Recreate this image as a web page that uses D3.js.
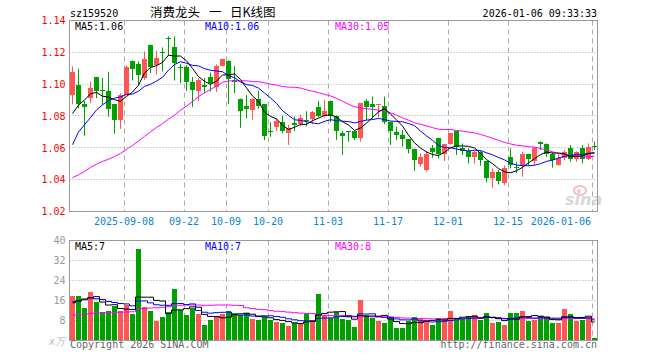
<!DOCTYPE html>
<html>
<head>
<meta charset="utf-8">
<script src="https://cdn.jsdelivr.net/npm/d3@7/dist/d3.min.js"></script>
<style>
    body { margin: 0; background: #fff; }
    svg text { font-family: "DejaVu Sans Mono", monospace; font-size: 10px; }
</style>
</head>
<body>
<div class="container"></div>
<script>
// trading days, 2025-08-26 .. 2026-01-06
const dates = [
    "08-26", "08-27", "08-28", "08-29", "09-01", "09-02", "09-03", "09-04", "09-05",
    "09-08", "09-09", "09-10", "09-11", "09-12", "09-15", "09-16", "09-17", "09-18", "09-19",
    "09-22", "09-23", "09-24", "09-25", "09-26", "09-29", "09-30",
    "10-09", "10-10", "10-13", "10-14", "10-15", "10-16", "10-17",
    "10-20", "10-21", "10-22", "10-23", "10-24", "10-27", "10-28", "10-29", "10-30", "10-31",
    "11-03", "11-04", "11-05", "11-06", "11-07", "11-10", "11-11", "11-12", "11-13", "11-14",
    "11-17", "11-18", "11-19", "11-20", "11-21", "11-24", "11-25", "11-26", "11-27", "11-28",
    "12-01", "12-02", "12-03", "12-04", "12-05", "12-08", "12-09", "12-10", "12-11", "12-12",
    "12-15", "12-16", "12-17", "12-18", "12-19", "12-22", "12-23", "12-24", "12-25", "12-26",
    "12-29", "12-30", "12-31", "01-05", "01-06"
]

const open = [
    1.0933, 1.0996, 1.0874, 1.0916, 1.1044, 1.0962, 1.0958, 1.0874, 1.0775, 1.0933,
    1.1147, 1.1126, 1.1038, 1.1248, 1.1118, 1.1201, 1.1290, 1.1233, 1.1107, 1.1105,
    1.1013, 1.0958, 1.0996, 1.1042, 1.0983, 1.1115, 1.1145, 1.1027, 1.0905, 1.0861,
    1.0840, 1.0905, 1.0874, 1.0704, 1.0731, 1.0761, 1.0696, 1.0754, 1.0750, 1.0775,
    1.0782, 1.0855, 1.0803, 1.0895, 1.0798, 1.0691, 1.0704, 1.0704, 1.0660, 1.0895,
    1.0874, 1.0872, 1.0860, 1.0761, 1.0702, 1.0681, 1.0654, 1.0593, 1.0496, 1.0460,
    1.0597, 1.0660, 1.0559, 1.0622, 1.0706, 1.0597, 1.0580, 1.0544, 1.0572, 1.0517,
    1.0412, 1.0446, 1.0376, 1.0544, 1.0480, 1.0492, 1.0559, 1.0517, 1.0639, 1.0622,
    1.0559, 1.0492, 1.0538, 1.0597, 1.0530, 1.0597, 1.0530, 1.0609
]
const high = [
    1.1111, 1.1097, 1.0895, 1.1017, 1.1046, 1.1038, 1.1078, 1.0876, 1.0943, 1.1118,
    1.1149, 1.1143, 1.1206, 1.1250, 1.1210, 1.1231, 1.1300, 1.1300, 1.1126, 1.1118,
    1.1044, 1.1038, 1.1038, 1.1073, 1.1124, 1.1160, 1.1150, 1.1113, 1.0910, 1.0931,
    1.0910, 1.0960, 1.0876, 1.0761, 1.0784, 1.0803, 1.0744, 1.0795, 1.0808, 1.0830,
    1.0832, 1.0895, 1.0900, 1.0897, 1.0803, 1.0706, 1.0706, 1.0706, 1.0882, 1.0908,
    1.0922, 1.0876, 1.0922, 1.0765, 1.0733, 1.0712, 1.0656, 1.0595, 1.0565, 1.0580,
    1.0618, 1.0662, 1.0625, 1.0693, 1.0708, 1.0628, 1.0597, 1.0580, 1.0580, 1.0519,
    1.0471, 1.0460, 1.0488, 1.0597, 1.0510, 1.0576, 1.0561, 1.0607, 1.0641, 1.0628,
    1.0572, 1.0559, 1.0586, 1.0618, 1.0578, 1.0618, 1.0628, 1.0639
]
const low = [
    1.0874, 1.0849, 1.0676, 1.0880, 1.0912, 1.0870, 1.0796, 1.0689, 1.0719, 1.0930,
    1.1023, 1.0996, 1.1027, 1.1069, 1.1059, 1.1080, 1.1180, 1.1023, 1.1006, 1.0958,
    1.0857, 1.0895, 1.0945, 1.0954, 1.0950, 1.1112, 1.0874, 1.0945, 1.0726, 1.0784,
    1.0776, 1.0846, 1.0649, 1.0670, 1.0706, 1.0691, 1.0618, 1.0706, 1.0736, 1.0735,
    1.0748, 1.0790, 1.0790, 1.0761, 1.0650, 1.0555, 1.0639, 1.0649, 1.0639, 1.0775,
    1.0782, 1.0790, 1.0748, 1.0618, 1.0649, 1.0607, 1.0565, 1.0454, 1.0481, 1.0450,
    1.0538, 1.0534, 1.0517, 1.0620, 1.0555, 1.0555, 1.0502, 1.0502, 1.0488, 1.0383,
    1.0349, 1.0370, 1.0366, 1.0471, 1.0440, 1.0418, 1.0492, 1.0492, 1.0586, 1.0544,
    1.0475, 1.0488, 1.0523, 1.0513, 1.0513, 1.0502, 1.0523, 1.0586
]
const close = [
    1.1076, 1.0874, 1.0857, 1.0975, 1.0958, 1.0958, 1.0845, 1.0775, 1.0929, 1.1107,
    1.1097, 1.1059, 1.1157, 1.1105, 1.1164, 1.1199, 1.1286, 1.1130, 1.1105, 1.1013,
    1.0962, 1.1027, 1.0985, 1.1006, 1.1113, 1.1157, 1.1031, 1.1015, 1.0832, 1.0847,
    1.0906, 1.0860, 1.0675, 1.0700, 1.0769, 1.0706, 1.0727, 1.0744, 1.0790, 1.0770,
    1.0824, 1.0803, 1.0832, 1.0803, 1.0706, 1.0677, 1.0700, 1.0660, 1.0880, 1.0859,
    1.0855, 1.0874, 1.0765, 1.0706, 1.0681, 1.0656, 1.0593, 1.0523, 1.0540, 1.0559,
    1.0576, 1.0559, 1.0622, 1.0691, 1.0607, 1.0582, 1.0544, 1.0572, 1.0523, 1.0412,
    1.0450, 1.0391, 1.0471, 1.0492, 1.0475, 1.0559, 1.0530, 1.0601, 1.0622, 1.0559,
    1.0523, 1.0534, 1.0576, 1.0530, 1.0576, 1.0530, 1.0607, 1.0607
]
// volume, in 10k
const volume = [
    17.8, 17.8, 13.0, 19.4, 15.4, 11.3, 11.8, 13.7, 11.8, 14.2,
    10.6, 36.6, 13.4, 11.8, 7.8, 9.4, 11.3, 20.6, 12.2, 10.2,
    13.0, 10.6, 6.2, 8.2, 9.8, 10.6, 11.8, 11.0, 10.2, 11.0,
    8.6, 8.2, 9.4, 8.2, 7.4, 7.0, 5.8, 7.0, 6.6, 10.6,
    8.2, 18.6, 10.2, 9.0, 11.4, 8.6, 8.2, 5.4, 16.2, 10.2,
    9.0, 7.8, 7.0, 9.0, 5.0, 5.0, 7.8, 9.4, 8.6, 8.2,
    6.2, 9.0, 9.0, 11.8, 8.2, 8.6, 9.8, 10.2, 8.2, 11.0,
    7.0, 7.4, 6.2, 11.0, 11.0, 11.8, 7.8, 8.2, 9.8, 9.4,
    7.0, 7.0, 12.6, 10.6, 7.8, 8.2, 9.4, 1.0
]

// moving average values before the window is full (they use earlier days)
const ma5Head = [1.0815, 1.0868, 1.0900, 1.0940]
const ma10Head = [1.0620, 1.0700, 1.0745, 1.0790, 1.0838, 1.0870, 1.0897, 1.0912, 1.0920]
const ma30Head = [
    1.0413, 1.0430, 1.0452, 1.0477, 1.0497, 1.0515, 1.0528, 1.0545, 1.0565, 1.0590,
    1.0615, 1.0643, 1.0672, 1.0700, 1.0728, 1.0752, 1.0780, 1.0805, 1.0836, 1.0862,
    1.0890, 1.0922, 1.0945, 1.0967, 1.0988, 1.1012, 1.1020, 1.1022, 1.1020
]
const vma5Head = [15.1, 15.8, 16.6, 17.1]
const vma10Head = [15.6, 15.9, 16.3, 17.0, 17.6, 16.4, 15.6, 15.2, 14.8]
const vma30Head = [
    10.2, 10.3, 10.5, 10.7, 10.9, 11.0, 11.1, 11.2, 11.3, 11.4,
    11.5, 12.6, 12.8, 13.0, 13.1, 13.3, 13.5, 14.0, 14.1, 14.2,
    14.2, 14.2, 14.1, 14.1, 14.2, 14.2, 14.2, 14.1, 14.0
]

const priceTicks = [1.14, 1.12, 1.10, 1.08, 1.06, 1.04, 1.02]
const volTicks = [40, 32, 24, 16, 8]
const tickDates = ["09-08", "09-22", "10-09", "10-20", "11-03", "11-17", "12-01", "12-15", "01-06"]
const tickLabels = ["2025-09-08", "09-22", "10-09", "10-20", "11-03", "11-17", "12-01", "12-15", "2026-01-06"]

const width = 660
const height = 360
const plot = { left: 69.5, right: 597.5 }
const main = { top: 20.5, bottom: 211.5 }
const vpan = { top: 240.5, bottom: 340.5 }
const up = "#ff5555", down = "#00a000"

let ma = (arr, n, head) => arr.map((v, i) => i < n - 1 ? head[i] : d3.mean(arr.slice(i - n + 1, i + 1)))

let svg = d3.select(".container")
    .append("svg")
    .attr("width", width)
    .attr("height", height)
    .attr("viewBox", [0, 0, width, height])

let x = d3.scaleBand()
    .domain(dates)
    .range([plot.left, plot.right])
    .paddingInner(1 / 6)
    .paddingOuter(1 / 12)

let yPrice = d3.scaleLinear().domain([1.02, 1.14]).range([main.bottom, main.top])
let yVol = d3.scaleLinear().domain([0, 40]).range([vpan.bottom, vpan.top])

let mid = d => x(d) + x.bandwidth() / 2
let crisp = v => Math.round(v - 0.5) + 0.5

// header
svg.append("text").attr("x", 70).attr("y", 16.5).text("sz159520")
svg.append("text")
    .attr("y", 16.5)
    .style("font-family", '"Noto Sans CJK SC", sans-serif')
    .style("font-size", "12.5px")
    .selectAll("tspan")
    .data([[150, "消费龙头"], [209, "一"], [230, "日K线图"]])
    .join("tspan")
    .attr("x", d => d[0])
    .text(d => d[1])
svg.append("text").attr("x", 597).attr("y", 16.5).attr("text-anchor", "end").text("2026-01-06 09:33:33")

// grids
let grid = svg.append("g").attr("stroke", "#aaa").attr("stroke-width", 1)
grid.selectAll("line.hp")
    .data(priceTicks.slice(1, -1))
    .join("line")
    .attr("x1", plot.left).attr("x2", plot.right)
    .attr("y1", d => crisp(yPrice(d))).attr("y2", d => crisp(yPrice(d)))
    .attr("stroke-dasharray", "1,2")
grid.selectAll("line.hv")
    .data(volTicks.slice(1))
    .join("line")
    .attr("x1", plot.left).attr("x2", plot.right)
    .attr("y1", d => crisp(yVol(d))).attr("y2", d => crisp(yVol(d)))
    .attr("stroke-dasharray", "1,2")
for (let [t, b] of [[main.top, main.bottom], [vpan.top, vpan.bottom]]) {
    grid.append("g")
        .selectAll("line")
        .data(tickDates)
        .join("line")
        .attr("x1", d => x(d) + 0.5).attr("x2", d => x(d) + 0.5)
        .attr("y1", t).attr("y2", b)
        .attr("stroke-dasharray", "5,4")
}

// sina watermark
let logo = svg.append("g").attr("opacity", 0.9)
logo.append("ellipse").attr("cx", 580).attr("cy", 190.5).attr("rx", 6).attr("ry", 4.5)
    .attr("fill", "none").attr("stroke", "#f6b8b8").attr("stroke-width", 2)
logo.append("circle").attr("cx", 579).attr("cy", 191).attr("r", 2).attr("fill", "#e8c8c8")
logo.append("text").attr("x", 565).attr("y", 205)
    .style("font-family", '"DejaVu Sans", sans-serif').style("font-size", "16px")
    .style("font-weight", "bold").style("font-style", "italic")
    .attr("fill", "#d4d4d4").text("sina")

// candles
let candles = svg.append("g")
    .selectAll("g")
    .data(dates.map((d, i) => ({ d, o: open[i], h: high[i], l: low[i], c: close[i] })))
    .join("g")
    .attr("fill", k => k.c >= k.o ? up : down)
    .attr("stroke", k => k.c >= k.o ? up : down)
candles.append("line")
    .attr("x1", k => mid(k.d)).attr("x2", k => mid(k.d))
    .attr("y1", k => yPrice(k.h)).attr("y2", k => yPrice(k.l))
candles.append("rect")
    .attr("stroke", "none")
    .attr("shape-rendering", "crispEdges")
    .attr("x", k => x(k.d))
    .attr("width", x.bandwidth())
    .attr("y", k => yPrice(Math.max(k.o, k.c)))
    .attr("height", k => Math.max(1, yPrice(Math.min(k.o, k.c)) - yPrice(Math.max(k.o, k.c))))

// volume bars
svg.append("g")
    .selectAll("rect")
    .data(volume)
    .join("rect")
    .attr("shape-rendering", "crispEdges")
    .attr("x", (v, i) => x(dates[i]))
    .attr("width", x.bandwidth())
    .attr("y", v => yVol(v))
    .attr("height", v => yVol(0) - yVol(v))
    .attr("fill", (v, i) => close[i] >= open[i] ? up : down)

// moving averages
let priceLine = d3.line().x((v, i) => mid(dates[i])).y(v => yPrice(v))
let volLine = d3.line().x((v, i) => mid(dates[i])).y(v => yVol(v)).curve(d3.curveStep)
let maSets = [
    [ma(close, 30, ma30Head), ma(volume, 30, vma30Head), "#ff00ff"],
    [ma(close, 10, ma10Head), ma(volume, 10, vma10Head), "#0000ff"],
    [ma(close, 5, ma5Head), ma(volume, 5, vma5Head), "#000000"]
]
for (let [p, v, col] of maSets) {
    svg.append("path").attr("d", priceLine(p)).attr("fill", "none").attr("stroke", col).attr("stroke-width", 1)
    svg.append("path").attr("d", volLine(v)).attr("fill", "none").attr("stroke", col).attr("stroke-width", 1)
}

// frames
for (let [t, b] of [[main.top, main.bottom], [vpan.top, vpan.bottom]]) {
    svg.append("rect")
        .attr("x", plot.left).attr("y", t)
        .attr("width", plot.right - plot.left).attr("height", b - t)
        .attr("fill", "none").attr("stroke", "#999")
}

// axes
let pAxis = svg.append("g")
    .attr("transform", `translate(${plot.left}, 0)`)
    .call(d3.axisLeft(yPrice).tickValues(priceTicks).tickFormat(d3.format(".2f")).tickSize(0).tickPadding(4))
pAxis.select(".domain").remove()
pAxis.selectAll("text").attr("fill", "#ff0000").style("font-family", '"DejaVu Sans Mono", monospace').style("font-size", "10px")

let vAxis = svg.append("g")
    .attr("transform", `translate(${plot.left}, 0)`)
    .call(d3.axisLeft(yVol).tickValues(volTicks).tickSize(0).tickPadding(4))
vAxis.select(".domain").remove()
vAxis.selectAll("text").attr("fill", "#999").style("font-family", '"DejaVu Sans Mono", monospace').style("font-size", "10px")
svg.append("text").attr("x", 65).attr("y", 345).attr("text-anchor", "end").attr("fill", "#bbb")
    .style("font-style", "italic").text("x万")

svg.append("g")
    .selectAll("text")
    .data(tickDates)
    .join("text")
    .attr("x", (d, i) => i === tickDates.length - 1 ? x(d) - 1 : x(d))
    .attr("y", 225)
    .attr("text-anchor", (d, i) => i === tickDates.length - 1 ? "end" : "middle")
    .attr("fill", "#0a84d6")
    .text((d, i) => tickLabels[i])

// legends
let legend = [["MA5:", "#000", 75], ["MA10:", "#0000ff", 205], ["MA30:", "#ff00ff", 335]]
let priceLegend = ["1.06", "1.06", "1.05"]
let volLegend = ["7", "7", "8"]
legend.forEach(([name, col, lx], i) => {
    svg.append("text").attr("x", lx).attr("y", 30).attr("fill", col).text(name + priceLegend[i])
    svg.append("text").attr("x", lx).attr("y", 250).attr("fill", col).text(name + volLegend[i])
})

// footer
svg.append("text").attr("x", 70).attr("y", 348).attr("fill", "#666").text("Copyright 2026 SINA.COM")
svg.append("text").attr("x", 597).attr("y", 348).attr("text-anchor", "end").attr("fill", "#666")
    .text("http://finance.sina.com.cn")
</script>
</body>
</html>
